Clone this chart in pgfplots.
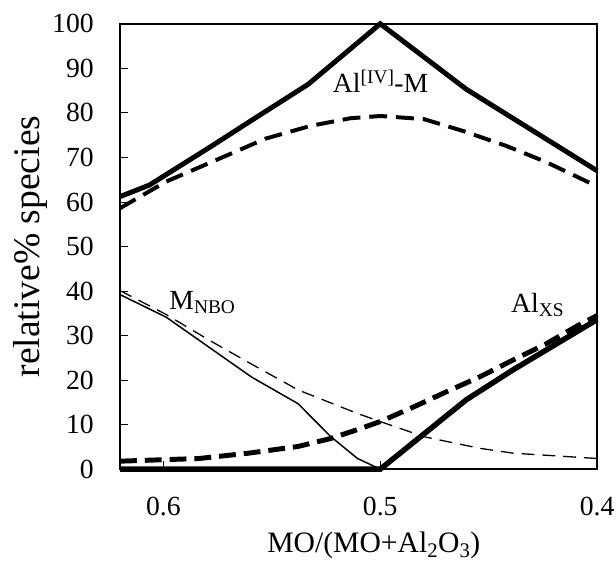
\documentclass[border=0pt]{standalone}
\usepackage{pgfplots}
\pgfplotsset{compat=1.18}
\usepackage{fontspec}
\setmainfont{Liberation Serif}
\begin{document}
\begin{tikzpicture}
\begin{axis}[
  scale only axis, width=481bp, height=449bp,
  x dir=reverse, xmin=0.4, xmax=0.62, ymin=0, ymax=100,
  xtick={0.4,0.5,0.6}, ytick={0,10,...,100},
  tick align=inside, xtick pos=bottom, ytick pos=left,
  major tick length=8bp,
  axis line style={line width=1.5bp},
  every tick/.style={line width=0.8bp, black},
  /pgf/number format/assume math mode=true,
  tick label style={font=\fontsize{28}{30}\selectfont},
  xticklabel style={yshift=-25bp, /pgf/number format/fixed, /pgf/number format/precision=1, /pgf/number format/fixed zerofill},
  yticklabel style={xshift=-23bp},
  xlabel={MO/(MO+Al\textsubscript{2}O\textsubscript{3})},
  ylabel={relative\% species},
  xlabel style={font=\fontsize{30}{34}\selectfont, at={(axis description cs:0.532,-0.186)}, anchor=base},
  ylabel style={font=\fontsize{38}{40}\selectfont, at={(axis description cs:-0.168,0.5)}, anchor=base},
  clip=false,
]
% Al[IV]-M (thick solid)
\addplot[black, line width=5bp] coordinates {
 (0.62,61.2) (0.6064,63.8) (0.5776,72.6) (0.5562,79.3) (0.5333,86.4) (0.5,100) (0.4603,85.3) (0.4,67.0)};
% Al[IV]-M (dashed)
\addplot[black, line width=4bp, dash pattern=on 18bp off 9bp] coordinates {
 (0.62,58.6) (0.5986,64.6) (0.5776,69.0) (0.553,74.2) (0.532,77.1) (0.5137,78.8) (0.5,79.3) (0.4799,78.6) (0.4616,75.9) (0.442,72.6) (0.4237,69.0) (0.4,63.5)};
% M_NBO (thin solid)
\addplot[black, line width=1.5bp] coordinates {
 (0.62,39.2) (0.5986,34.1) (0.579,27.4) (0.5594,20.7) (0.5379,14.7) (0.5228,7.3) (0.5105,2.4) (0.5,0) (0.4,0)};
% M_NBO (thin dashed)
\addplot[black, line width=1.3bp, dash pattern=on 13bp off 8bp] coordinates {
 (0.62,40.1) (0.5986,34.7) (0.579,29.0) (0.5594,23.6) (0.5379,17.8) (0.5105,12.5) (0.5,10.7) (0.4799,7.3) (0.4543,4.7) (0.4388,3.6) (0.4,2.4)};
% Al_XS (thick solid)
\addplot[black, line width=5.5bp] coordinates {
 (0.62,0) (0.5,0) (0.4603,15.6) (0.4388,22.3) (0.4,33.6)};
% Al_XS (thick dashed)
\addplot[black, line width=5bp, dash pattern=on 17bp off 8bp] coordinates {
 (0.62,1.8) (0.5836,2.4) (0.5607,3.6) (0.5379,5.1) (0.5228,6.9) (0.5105,8.9) (0.5,10.7) (0.4845,14.0) (0.4694,17.4) (0.4543,20.7) (0.4388,24.5) (0.4237,28.1) (0.4087,32.3) (0.4,34.5)};
\node[anchor=base west, font=\fontsize{28}{30}\selectfont, inner sep=0pt] at (axis cs:0.5219,84.6) {Al\textsuperscript{[IV]}-M};
\node[anchor=base west, font=\fontsize{28}{30}\selectfont, inner sep=0pt] at (axis cs:0.5973,35.9) {M\textsubscript{NBO}};
\node[anchor=base west, font=\fontsize{28}{30}\selectfont, inner sep=0pt] at (axis cs:0.4397,35.2) {Al\textsubscript{XS}};
\end{axis}
\pgfresetboundingbox
\path ([xshift=-121bp,yshift=-95bp]current axis.south west) rectangle ([xshift=19bp,yshift=24bp]current axis.north east);
\end{tikzpicture}
\end{document}
